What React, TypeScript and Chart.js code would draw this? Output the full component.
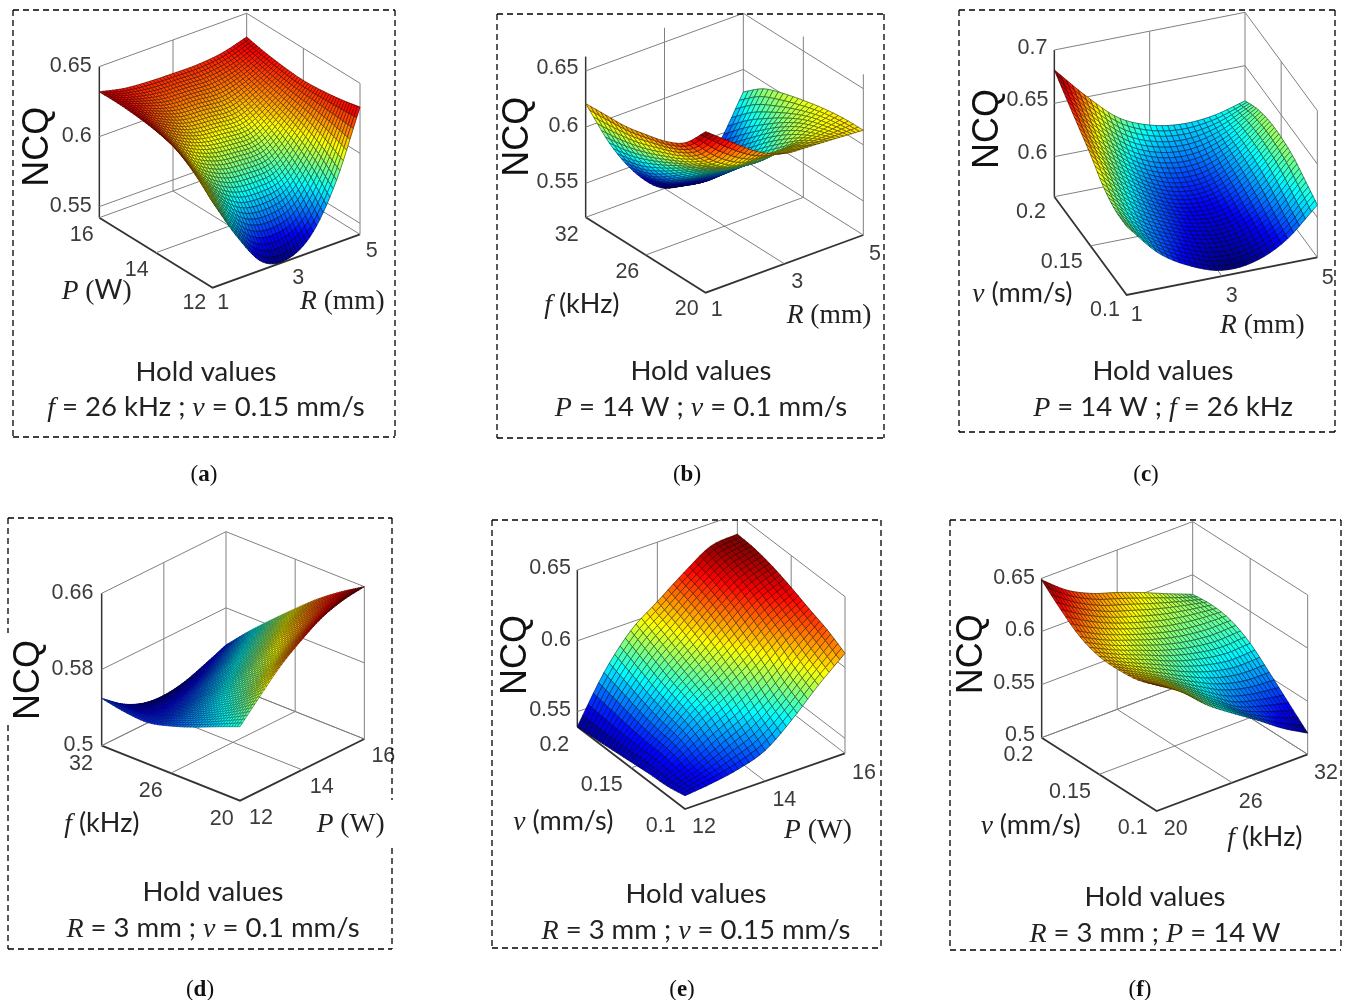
import React, { useEffect, useRef } from "react";
import { Chart, registerables } from "chart.js";
Chart.register(...registerables);

// NCQ; rows run along the depth axis, columns along the right-hand axis.
const surfaceA = [
  [.603,.572,.548,.543,.554,.585,.633],
  [.616,.590,.572,.568,.574,.597,.630],
  [.625,.602,.590,.587,.589,.606,.628],
  [.629,.612,.603,.600,.600,.612,.627],
  [.631,.620,.612,.610,.609,.617,.628],
  [.632,.625,.620,.619,.618,.622,.630],
  [.632,.628,.6265,.626,.626,.628,.633],
];
const surfaceB = [
  [.663,.645,.628,.618,.616,.6145,.613],
  [.642,.618,.605,.605,.604,.608,.6125],
  [.632,.604,.590,.585,.585,.600,.610],
  [.627,.594,.575,.570,.568,.588,.606],
  [.623,.585,.560,.552,.550,.573,.601],
  [.622,.578,.547,.535,.532,.557,.594],
  [.621,.574,.540,.520,.520,.540,.580],
];
const surfaceC = [
  [.6266,.596,.578,.568,.570,.584,.6116],
  [.6275,.600,.585,.575,.576,.590,.619],
  [.635,.607,.590,.580,.580,.597,.626],
  [.648,.616,.595,.584,.585,.602,.629],
  [.659,.626,.602,.590,.590,.605,.629],
  [.670,.638,.612,.600,.598,.607,.625],
  [.6813,.651,.625,.612,.607,.609,.617],
];
const surfaceD = [
  [.5777,.600,.621,.637,.650,.657,.660],
  [.568,.582,.597,.611,.624,.636,.645],
  [.558,.568,.580,.593,.606,.618,.628],
  [.5495,.555,.563,.573,.585,.597,.608],
  [.5436,.543,.547,.555,.565,.576,.587],
  [.545,.536,.534,.537,.544,.554,.565],
  [.5497,.533,.523,.5205,.524,.532,.541],
];
const surfaceE = [
  [.5488,.551,.5545,.561,.576,.594,.610],
  [.546,.553,.562,.571,.584,.601,.617],
  [.545,.558,.571,.582,.595,.610,.622],
  [.5435,.560,.577,.590,.604,.618,.6274],
  [.542,.563,.582,.597,.612,.625,.632],
  [.5405,.567,.588,.603,.618,.630,.635],
  [.5394,.571,.594,.608,.622,.634,.636],
];
const surfaceF = [
  [.6186,.603,.582,.5655,.550,.5335,.520],
  [.612,.600,.584,.567,.551,.543,.537],
  [.610,.598,.585,.572,.561,.555,.554],
  [.611,.600,.590,.580,.573,.569,.570],
  [.618,.606,.597,.589,.583,.580,.580],
  [.632,.618,.607,.599,.592,.587,.583],
  [.6484,.630,.618,.610,.601,.591,.5816],
];

const ticksP = ["12", "14", "16"];
const ticksR = ["1", "3", "5"];
const ticksF = ["20", "26", "32"];
const ticksV = ["0.1", "0.15", "0.2"];

const SANS = '"Liberation Sans"';
const SERIF = '"Liberation Serif"';
const CAL = "Lato";
type Seg = [string, string];
const it = (t: string): Seg => [t, `italic 27.5px ${SERIF}`];
const cal = (t: string): Seg => [t, `27px ${CAL}`];
const ser = (t: string): Seg => [t, `27.5px ${SERIF}`];
const capIt = (t: string): Seg => [t, `italic 28px ${SERIF}`];
const capCal = (t: string): Seg => [t, `27.5px ${CAL}`];

const panels: any[] = [
  {
    letter: "a", grid: surfaceA, rect: [4, 4, 480, 486], crop: [10, 5], clim: [.543, .642], meshAlpha: .72,
    F: [608, 848], Ex: [442, -160], Ey: [-340, -210], z0: 0.5421, kz: 4200, zTop: 0.65, mesh: [44, 44],
    zTicks: [[0.55, "0.55", 245, 603], [0.6, "0.6", 245, 393], [0.65, "0.65", 245, 183]],
    tTicks: ticksP, tPos: [[553, 893], [380, 795], [215, 690]], sTicks: ticksR, sPos: [[640, 893], [865, 818], [1085, 737]],
    ncq: [83, 425], tLabel: [[it("P"), ser(" ("), cal("W"), ser(")")], 155, 882], sLabel: [[it("R"), ser(" (mm)")], 870, 912],
    frame: [13, 10, 395, 437], gaps: { }, cap: [206, 372, 407], line: [capIt("f"), capCal(" = 26 kHz ; "), capIt("v"), capCal(" = 0.15 mm/s")], tag: [204, 473],
  },
  {
    letter: "b", grid: surfaceB, rect: [488, 13, 450, 477], crop: [495, 10], clim: [.52, .663], meshAlpha: .72,
    F: [632, 848], Ex: [473, -173], Ey: [-360, -226], z0: 0.5197, kz: 3370, zTop: 0.6628, mesh: [40, 24],
    zTicks: [[0.55, "0.55", 250, 517], [0.6, "0.6", 250, 348], [0.65, "0.65", 250, 175]],
    tTicks: ticksF, tPos: [[575, 897], [397, 785], [215, 675]], sTicks: ticksR, sPos: [[665, 900], [907, 815], [1140, 732]],
    ncq: [70, 380], tLabel: [[it("f"), cal(" (kHz)")], 148, 908], sLabel: [[it("R"), ser(" (mm)")], 875, 940],
    frame: [497, 14, 884, 438], gaps: { }, cap: [701, 371, 407], line: [capIt("P"), capCal(" = 14 W ; "), capIt("v"), capCal(" = 0.1 mm/s")], tag: [687, 473],
  },
  {
    letter: "c", grid: surfaceC, rect: [945, 4, 400, 486], crop: [955, 5], clim: [.568, .6813], meshAlpha: .72,
    F: [515, 870], Ex: [572, -113], Ey: [-217, -295], z0: 0.5625, kz: 3200, zTop: 0.7, mesh: [32, 32],
    zTicks: [[0.6, "0.6", 277, 445], [0.65, "0.65", 280, 285], [0.7, "0.7", 277, 128]],
    tTicks: ticksV, tPos: [[450, 915], [320, 772], [228, 620]], sTicks: ticksR, sPos: [[545, 930], [830, 873], [1118, 820]],
    ncq: [100, 372], tLabel: [[it("v"), cal(" (mm/s)")], 52, 890], sLabel: [[it("R"), ser(" (mm)")], 795, 985],
    frame: [959, 10, 1335, 432], gaps: { }, cap: [1163, 371, 407], line: [capIt("P"), capCal(" = 14 W ; "), capIt("f"), capCal(" = 26 kHz")], tag: [1146, 473],
  },
  {
    letter: "d", grid: surfaceD, rect: [2, 500, 480, 500], crop: [5, 515], clim: [.5205, .66], meshAlpha: .55,
    F: [705, 857], Ex: [373, -185], Ey: [-415, -165], z0: 0.5, kz: 2856, zTop: 0.66, mesh: [50, 50],
    zTicks: [[0.5, "0.5", 265, 690], [0.58, "0.58", 265, 462], [0.66, "0.66", 265, 235]],
    tTicks: ticksF, tPos: [[650, 912], [437, 827], [228, 747]], sTicks: ticksP, sPos: [[768, 908], [950, 815], [1135, 722]],
    ncq: [73, 495], tLabel: [[it("f"), cal(" (kHz)")], 178, 950], sLabel: [[it("P"), ser(" (W)")], 935, 950],
    frame: [8, 518, 392, 949], gaps: { left: [633, 725], right: [800, 848] }, cap: [213, 892, 928], line: [capIt("R"), capCal(" = 3 mm ; "), capIt("v"), capCal(" = 0.1 mm/s")], tag: [200, 988],
  },
  {
    letter: "e", grid: surfaceE, rect: [484, 519, 455, 481], crop: [490, 515], clim: [.5394, .636], meshAlpha: .72,
    F: [585, 882], Ex: [480, -167], Ey: [-323, -247], z0: 0.5394, kz: 4250, zTop: 0.65, mesh: [30, 30],
    zTicks: [[0.55, "0.55", 243, 585], [0.6, "0.6", 243, 375], [0.65, "0.65", 243, 160]],
    tTicks: ticksV, tPos: [[512, 932], [335, 810], [193, 690]], sTicks: ticksP, sPos: [[642, 937], [883, 855], [1122, 775]],
    ncq: [77, 420], tLabel: [[it("v"), cal(" (mm/s)")], 70, 945], sLabel: [[it("P"), ser(" (W)")], 882, 968],
    frame: [492, 520, 881, 948], gaps: { }, cap: [696, 894, 930], line: [capIt("R"), capCal(" = 3 mm ; "), capIt("v"), capCal(" = 0.15 mm/s")], tag: [682, 988],
  },
  {
    letter: "f", grid: surfaceF, rect: [942, 500, 405, 500], crop: [950, 515], clim: [.52, .6484], meshAlpha: .72,
    F: [620, 888], Ex: [453, -170], Ey: [-345, -220], z0: 0.5, kz: 3187, zTop: 0.65, mesh: [40, 24],
    zTicks: [[0.5, "0.5", 255, 660], [0.55, "0.55", 255, 505], [0.6, "0.6", 255, 345], [0.65, "0.65", 255, 188]],
    tTicks: ticksV, tPos: [[548, 940], [360, 830], [205, 720]], sTicks: ticksF, sPos: [[677, 942], [902, 860], [1128, 775]],
    ncq: [67, 418], tLabel: [[it("v"), cal(" (mm/s)")], 92, 958], sLabel: [[it("f"), cal(" (kHz)")], 832, 993],
    frame: [950, 520, 1341, 950], gaps: { }, cap: [1155, 897, 933], line: [capIt("R"), capCal(" = 3 mm ; "), capIt("P"), capCal(" = 14 W")], tag: [1140, 988],
  },
];

function jet(v: number): string {
  const c = (x: number) => Math.round(255 * Math.max(0, Math.min(1, x)));
  const r = Math.min(4 * v - 1.5, -4 * v + 4.5);
  const g = Math.min(4 * v - 0.5, -4 * v + 3.5);
  const b = Math.min(4 * v + 0.5, -4 * v + 2.5);
  return `rgb(${c(r)},${c(g)},${c(b)})`;
}

// Shading helper: smooth position inside a read cell, used only to draw the facets of the mesh.
function cr(a: number[], u: number): number {
  const n = a.length - 1;
  const i = Math.min(Math.floor(u), n - 1);
  const f = u - i;
  const p1 = a[i], p2 = a[i + 1];
  const p0 = i > 0 ? a[i - 1] : 2 * p1 - p2;
  const p3 = i + 2 <= n ? a[i + 2] : 2 * p2 - p1;
  return 0.5 * (2 * p1 + (p2 - p0) * f + (2 * p0 - 5 * p1 + 4 * p2 - p3) * f * f + (3 * p1 - p0 - 3 * p2 + p3) * f * f * f);
}
function surfaceAt(g: number[][], s: number, t: number): number {
  const col = g.map((row) => cr(row, s * (row.length - 1)));
  return cr(col, t * (g.length - 1));
}

function PanelChart({ p }: { p: any }) {
  const ref = useRef<HTMLCanvasElement>(null);
  useEffect(() => {
    const [cx, cy] = p.crop;
    const X = (zx: number) => cx + zx / 3;
    const Y = (zy: number) => cy + zy / 3;
    const proj = (s: number, t: number, z: number) => ({
      x: X(p.F[0] + p.Ex[0] * s + p.Ey[0] * t),
      y: Y(p.F[1] + p.Ex[1] * s + p.Ey[1] * t - (z - p.z0) * p.kz),
    });
    const line = (data: any[], color: string, width: number) => ({
      data, showLine: true, pointRadius: 0, borderColor: color, borderWidth: width, fill: false,
    });
    const grey = "#808080";
    const dark = "#333333";
    const datasets: any[] = [];
    const z0 = p.z0, top = p.zTop;
    for (const [z] of p.zTicks) datasets.push(line([proj(0, 1, z), proj(1, 1, z), proj(1, 0, z)], grey, 1));
    for (const u of [0.5, 1]) {
      datasets.push(line([proj(u, 1, z0), proj(u, 1, top)], grey, 1));
      datasets.push(line([proj(1, 1 - u, z0), proj(1, 1 - u, top)], grey, 1));
    }
    datasets.push(line([proj(0.5, 0, z0), proj(0.5, 1, z0)], grey, 1));
    datasets.push(line([proj(0, 0.5, z0), proj(1, 0.5, z0)], grey, 1));
    datasets.push(line([proj(0, 1, z0), proj(1, 1, z0), proj(1, 0, z0)], grey, 1));
    datasets.push(line([proj(0, 1, z0), proj(0, 0, z0), proj(1, 0, z0)], dark, 1.8));
    datasets.push(line([proj(0, 1, z0), proj(0, 1, top)], dark, 1.5));
    // the read values themselves, placed through the chart's scales
    const pts: any[] = [];
    p.grid.forEach((row: number[], j: number) => row.forEach((z, i) => pts.push(proj(i / (row.length - 1), j / (p.grid.length - 1), z))));
    datasets.push({ data: pts, pointRadius: 0, showLine: false });

    const surfacePlugin = {
      id: "surface",
      afterDatasetsDraw(chart: any) {
        const { ctx, scales } = chart;
        const px = (q: any) => [scales.x.getPixelForValue(q.x), scales.y.getPixelForValue(q.y)];
        const [zmin, zmax] = p.clim;
        const [ms, mt] = p.mesh;
        const Z: number[][] = [];
        for (let j = 0; j <= mt; j++) {
          Z.push([]);
          for (let i = 0; i <= ms; i++) Z[j].push(surfaceAt(p.grid, i / ms, j / mt));
        }
        ctx.save();
        ctx.lineJoin = "round";
        for (let j = mt - 1; j >= 0; j--) {
          for (let i = ms - 1; i >= 0; i--) {
            const q = [[i, j], [i + 1, j], [i + 1, j + 1], [i, j + 1]].map(([a, b]) => px(proj(a / ms, b / mt, Z[b][a])));
            const m = (Z[j][i] + Z[j][i + 1] + Z[j + 1][i] + Z[j + 1][i + 1]) / 4;
            const col = jet((m - zmin) / (zmax - zmin));
            ctx.beginPath();
            ctx.moveTo(q[0][0], q[0][1]);
            for (let k = 1; k < 4; k++) ctx.lineTo(q[k][0], q[k][1]);
            ctx.closePath();
            ctx.fillStyle = col;
            ctx.strokeStyle = col;
            ctx.lineWidth = 0.5;
            ctx.fill();
            ctx.stroke();
            ctx.strokeStyle = `rgba(0,0,0,${p.meshAlpha})`;
            ctx.lineWidth = 0.65;
            ctx.stroke();
          }
        }
        ctx.restore();

        // text and frame
        ctx.save();
        const text = (s: string, zx: number, zy: number, align: CanvasTextAlign, font: string, color: string) => {
          ctx.font = font;
          ctx.fillStyle = color;
          ctx.textAlign = align;
          ctx.textBaseline = "middle";
          ctx.fillText(s, scales.x.getPixelForValue(X(zx)), scales.y.getPixelForValue(Y(zy)));
        };
        const tickFont = `21.5px ${SANS}`, tc = "#3c3c3c";
        for (const [, label, zx, zy] of p.zTicks) text(label, zx, zy, "right", tickFont, tc);
        p.tTicks.forEach((l: string, i: number) => text(l, p.tPos[i][0], p.tPos[i][1], "center", tickFont, tc));
        p.sTicks.forEach((l: string, i: number) => text(l, p.sPos[i][0], p.sPos[i][1], "center", tickFont, tc));

        ctx.save();
        ctx.translate(scales.x.getPixelForValue(X(p.ncq[0])), scales.y.getPixelForValue(Y(p.ncq[1])));
        ctx.rotate(-Math.PI / 2);
        ctx.font = `36px ${SANS}`;
        ctx.fillStyle = "#111";
        ctx.textAlign = "center";
        ctx.textBaseline = "middle";
        ctx.fillText("NCQ", 0, 0);
        ctx.restore();

        const runs = (segs: Seg[], x: number, y: number, color: string) => {
          ctx.textAlign = "left";
          ctx.textBaseline = "alphabetic";
          ctx.fillStyle = color;
          let cur = x;
          for (const [s, f] of segs) {
            ctx.font = f;
            ctx.fillText(s, cur, y);
            cur += ctx.measureText(s).width;
          }
        };
        const width = (segs: Seg[]) => segs.reduce((w, [s, f]) => { ctx.font = f; return w + ctx.measureText(s).width; }, 0);
        const PX = (v: number) => scales.x.getPixelForValue(v);
        const PY = (v: number) => scales.y.getPixelForValue(v);
        runs(p.tLabel[0], PX(X(p.tLabel[1])), PY(Y(p.tLabel[2])), "#222");
        runs(p.sLabel[0], PX(X(p.sLabel[1])), PY(Y(p.sLabel[2])), "#222");

        const hold: Seg[] = [["Hold values", capCal("")[1]]];
        runs(hold, PX(p.cap[0]) - width(hold) / 2, PY(p.cap[1]) + 9, "#222");
        runs(p.line, PX(p.cap[0]) - width(p.line) / 2, PY(p.cap[2]) + 9, "#222");

        const tag: Seg[] = [["(", `23px ${SERIF}`], [p.letter, `bold 23px ${SERIF}`], [")", `23px ${SERIF}`]];
        runs(tag, PX(p.tag[0]) - width(tag) / 2, PY(p.tag[1]) + 8, "#111");

        const [x0, y0, x1, y1] = p.frame;
        ctx.strokeStyle = "#000";
        ctx.lineWidth = 1.3;
        ctx.setLineDash([6, 4]);
        const seg = (a: number, b: number, c: number, d: number) => {
          ctx.beginPath();
          ctx.moveTo(PX(a), PY(b));
          ctx.lineTo(PX(c), PY(d));
          ctx.stroke();
        };
        seg(x0, y0, x1, y0);
        seg(x0, y1, x1, y1);
        const side = (x: number, gap?: number[]) => {
          if (gap) { seg(x, y0, x, gap[0]); seg(x, gap[1], x, y1); } else seg(x, y0, x, y1);
        };
        side(x0, p.gaps.left);
        side(x1, p.gaps.right);
        ctx.restore();
      },
    };

    const [rx, ry, rw, rh] = p.rect;
    const chart = new Chart(ref.current as HTMLCanvasElement, {
      type: "scatter",
      data: { datasets },
      plugins: [surfacePlugin],
      options: {
        animation: false,
        responsive: false,
        events: [],
        layout: { padding: 0 },
        plugins: { legend: { display: false }, tooltip: { enabled: false } },
        scales: {
          x: { type: "linear", min: rx, max: rx + rw, display: false },
          y: { type: "linear", min: ry, max: ry + rh, reverse: true, display: false },
        },
      },
    } as any);
    return () => chart.destroy();
  }, [p]);
  const [x, y, w, h] = p.rect;
  return <canvas ref={ref} width={w} height={h} style={{ position: "absolute", left: x, top: y, width: w, height: h, display: "block" }} />;
}

export default function App() {
  return (
    <div style={{ position: "absolute", left: 0, top: 0, width: 1347, height: 1002, background: "#fff", overflow: "hidden" }}>
      {panels.map((p) => <PanelChart key={p.letter} p={p} />)}
    </div>
  );
}
